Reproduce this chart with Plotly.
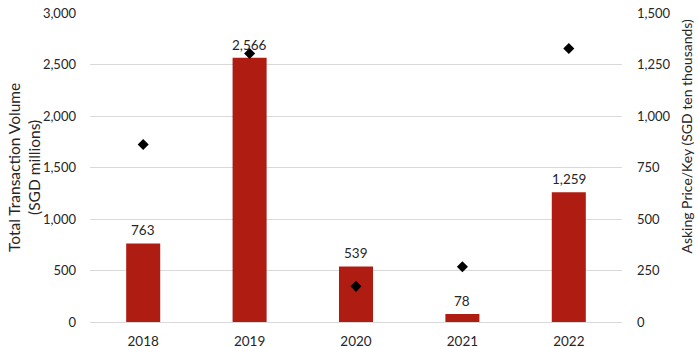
import plotly.graph_objects as go

years = ["2018", "2019", "2020", "2021", "2022"]
volume = [763, 2566, 539, 78, 1259]
price_per_key = [862, 1303, 173, 268, 1328]
left_ticks = [0, 500, 1000, 1500, 2000, 2500, 3000]
right_ticks = [0, 250, 500, 750, 1000, 1250, 1500]

FONT = "Lato"
TXT = "#262626"

fig = go.Figure()
fig.add_trace(go.Bar(
    x=years, y=volume, marker=dict(color="#AF1D12", line=dict(width=0)),
    yaxis="y", showlegend=False,
))
fig.add_trace(go.Scatter(
    x=years, y=price_per_key, mode="markers",
    marker=dict(symbol="diamond", size=8.5, color="black"),
    yaxis="y2", showlegend=False, cliponaxis=False,
))

annotations = [
    dict(x=i, y=v, xref="x", yref="y", text=f"{v:,}", showarrow=False,
         yanchor="middle", yshift=13, font=dict(family=FONT, size=13.5, color=TXT))
    for i, v in enumerate(volume)
]
annotations += [
    dict(text="Total Transaction Volume<br>(SGD millions)", textangle=-90,
         xref="paper", yref="paper", x=-0.125, y=0.5, xanchor="center", yanchor="middle",
         showarrow=False, font=dict(family=FONT, size=15.5, color=TXT)),
    dict(text="Asking Price/Key (SGD ten thousands)", textangle=-90,
         xref="paper", yref="paper", x=1.122, y=0.603, xanchor="center", yanchor="middle",
         showarrow=False, font=dict(family=FONT, size=14, color=TXT)),
]

fig.update_layout(
    width=698, height=347,
    margin=dict(l=90, r=76, t=13, b=25),
    paper_bgcolor="white", plot_bgcolor="white",
    bargap=0.68,
    font=dict(family=FONT, size=13.5, color=TXT),
    xaxis=dict(type="category", categoryorder="array", categoryarray=years,
               range=[-0.5, len(years) - 0.5],
               showgrid=False, showline=False, ticks="",
               ticklabelstandoff=9, automargin=False,
               tickfont=dict(family=FONT, size=13.5, color=TXT)),
    yaxis=dict(range=[0, 3000], tickvals=left_ticks, tickformat=",",
               showgrid=True, gridcolor="#D9D9D9", gridwidth=1,
               zeroline=True, zerolinecolor="#D9D9D9", zerolinewidth=1,
               showline=False, ticks="", ticklabelstandoff=13, automargin=False,
               tickfont=dict(family=FONT, size=13, color=TXT)),
    yaxis2=dict(range=[0, 1500], tickvals=right_ticks, tickformat=",",
                overlaying="y", side="right", showgrid=False, zeroline=False,
                showline=False, ticks="", ticklabelstandoff=14, automargin=False,
                tickfont=dict(family=FONT, size=13, color=TXT)),
    annotations=annotations,
)

fig.write_html("out.html")
